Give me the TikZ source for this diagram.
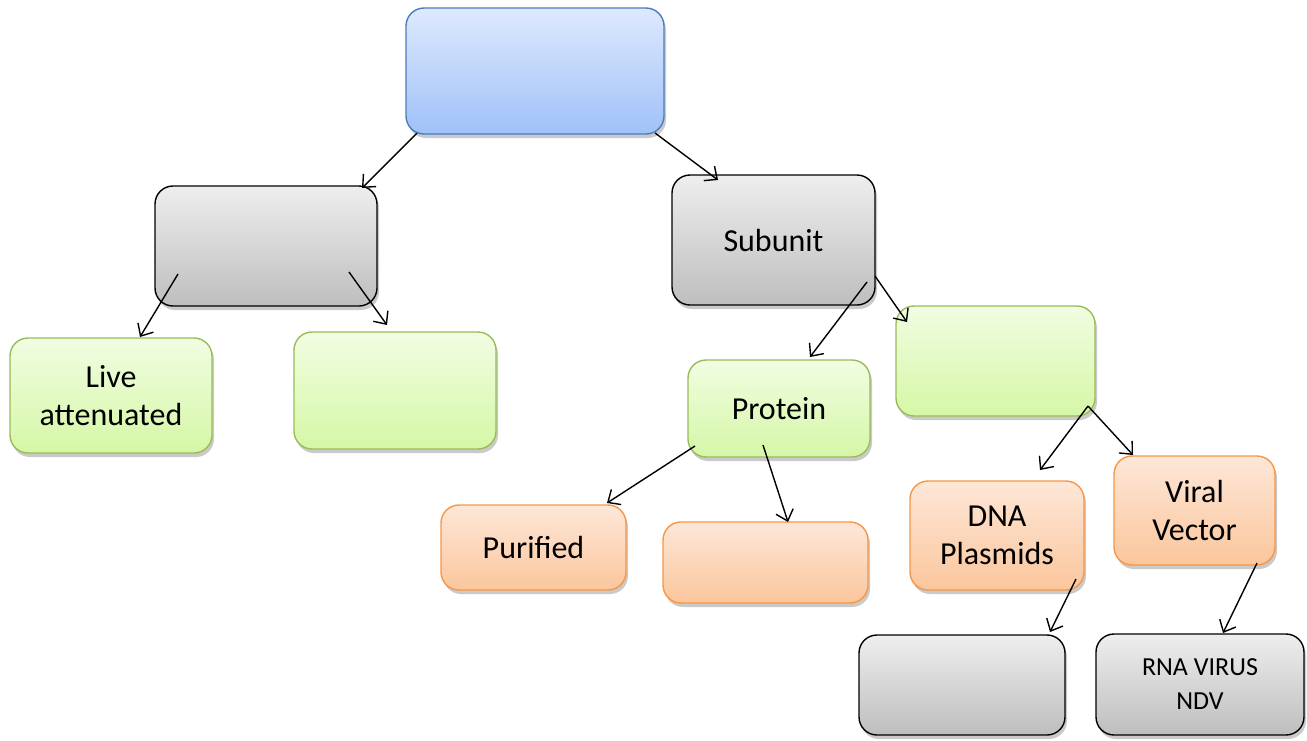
\documentclass[tikz,border=0pt]{standalone}
\usepackage{fontspec}
\setmainfont{Carlito}
\usetikzlibrary{arrows.meta,shadows}
\definecolor{bTop}{HTML}{DEE9FD}
\definecolor{bBot}{HTML}{A0C1F9}
\definecolor{bLine}{HTML}{4A7EBB}
\definecolor{gTop}{HTML}{EEEEEE}
\definecolor{gBot}{HTML}{BEBEBE}
\definecolor{grTop}{HTML}{F1FDE2}
\definecolor{grBot}{HTML}{D5F7A6}
\definecolor{grLine}{HTML}{9BBB59}
\definecolor{oTop}{HTML}{FDE7D8}
\definecolor{oBot}{HTML}{FBC69C}
\definecolor{oLine}{HTML}{F79646}
\tikzset{
  x=1pt,y=-1pt,
  box/.style={rounded corners=18pt, line width=1.4pt, align=center,
    font=\fontsize{32}{38}\selectfont, inner sep=0pt,
    drop shadow={shadow xshift=2pt,shadow yshift=-4pt,fill=black!35,opacity=0.6}},
  bluebox/.style={box, draw=bLine, top color=bTop, bottom color=bBot},
  graybox/.style={box, draw=black, top color=gTop, bottom color=gBot},
  greenbox/.style={box, draw=grLine, top color=grTop, bottom color=grBot},
  orangebox/.style={box, draw=oLine, top color=oTop, bottom color=oBot},
  arr/.style={-{Straight Barb[length=10pt,width=18pt,line width=1.4pt]}, line width=1.4pt}
}
\begin{document}
\begin{tikzpicture}
\useasboundingbox (0,0) rectangle (1307,740);
\node[bluebox, minimum width=258, minimum height=126] (top) at (535,71) {};
\node[graybox, minimum width=222, minimum height=120] (gl) at (266,246) {};
\node[graybox, minimum width=203, minimum height=130] (sub) at (773.5,240) {Subunit};
\node[greenbox, minimum width=202, minimum height=115] (live) at (111,395.5) {Live\\attenuated};
\node[greenbox, minimum width=202, minimum height=117] (g2) at (395,390.5) {};
\node[greenbox, minimum width=182, minimum height=97] (prot) at (779,408.5) {Protein};
\node[greenbox, minimum width=199, minimum height=110] (gr) at (995.5,361) {};
\node[orangebox, minimum width=185, minimum height=85] (pur) at (533.5,547.5) {Purified};
\node[orangebox, minimum width=205, minimum height=81] (o2) at (765.5,562.5) {};
\node[orangebox, minimum width=174, minimum height=109] (dna) at (997,535.5) {DNA\\Plasmids};
\node[orangebox, minimum width=161, minimum height=109] (vir) at (1194.5,510.5) {Viral\\Vector};
\node[graybox, minimum width=206, minimum height=100] (gb) at (962,685) {};
\node[graybox, minimum width=208, minimum height=101, font=\fontsize{26}{34}\selectfont] (rna) at (1200,684.5) {RNA VIRUS\\NDV};
% arrow end points
\coordinate (a1s) at (417,133); \coordinate (a1e) at (362,188);
\coordinate (a2s) at (655,133); \coordinate (a2e) at (718,180);
\coordinate (a3s) at (178,274); \coordinate (a3e) at (140,337);
\coordinate (a4s) at (349,272); \coordinate (a4e) at (387,325);
\coordinate (a5s) at (867,282); \coordinate (a5e) at (810,357);
\coordinate (a6s) at (875,276); \coordinate (a6e) at (907,322);
\coordinate (a7s) at (1088,406); \coordinate (a7e) at (1040,470);
\coordinate (a8s) at (1088,406); \coordinate (a8e) at (1133,455);
\coordinate (a9s) at (695,446); \coordinate (a9e) at (607,503);
\coordinate (a10s) at (763,445); \coordinate (a10e) at (788,522);
\coordinate (a11s) at (1076,579); \coordinate (a11e) at (1050,632);
\coordinate (a12s) at (1257,563); \coordinate (a12e) at (1223,633);
\draw[arr] (a1s) -- (a1e);
\draw[arr] (a2s) -- (a2e);
\draw[arr] (a3s) -- (a3e);
\draw[arr] (a4s) -- (a4e);
\draw[arr] (a5s) -- (a5e);
\draw[arr] (a6s) -- (a6e);
\draw[arr] (a7s) -- (a7e);
\draw[arr] (a8s) -- (a8e);
\draw[arr] (a9s) -- (a9e);
\draw[arr] (a10s) -- (a10e);
\draw[arr] (a11s) -- (a11e);
\draw[arr] (a12s) -- (a12e);
\end{tikzpicture}
\end{document}
